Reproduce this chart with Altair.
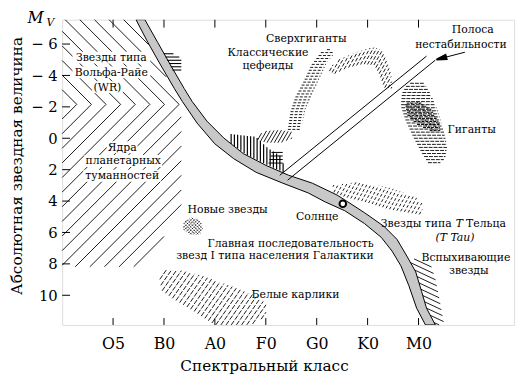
import altair as alt
import numpy as np
import pandas as pd

# ---------------- axes ----------------
spectral_labels = ["O5", "B0", "A0", "F0", "G0", "K0", "M0"]
spectral_pos = [1, 2, 3, 4, 5, 6, 7]
mag_ticks = [-6, -4, -2, 0, 2, 4, 6, 8, 10]
X_DOMAIN = [0.0, 8.878]
Y_DOMAIN = [-7.55, 11.89]
W, H = 459, 310
SX = W / (X_DOMAIN[1] - X_DOMAIN[0])
SY = H / (Y_DOMAIN[1] - Y_DOMAIN[0])

# ---------------- main sequence band (edges) ----------------
ms_upper_x = [1.625, 1.876, 2.128, 2.398, 2.553, 2.843, 3.172, 3.559, 4.004, 4.449, 4.913,
              5.397, 5.551, 5.938, 6.325, 6.576, 6.770, 6.944, 7.060, 7.157, 7.331]
ms_upper_y = [-7.55, -6.107, -4.665, -3.160, -2.345, -1.091, -0.025, 0.978, 1.730, 2.357, 2.859,
              3.611, 3.925, 4.740, 5.618, 6.433, 7.498, 8.502, 9.755, 10.821, 11.89]
ms_lower_x = [1.451, 1.683, 1.934, 2.205, 2.360, 2.650, 2.998, 3.366, 3.810, 4.333, 4.836,
              5.164, 5.551, 5.938, 6.267, 6.480, 6.654, 6.809, 6.963, 7.137]
ms_lower_y = [-7.55, -6.107, -4.665, -3.160, -2.345, -0.966, 0.351, 1.292, 2.169, 2.859, 3.486,
              4.050, 4.614, 5.430, 6.307, 7.185, 8.125, 9.379, 10.821, 11.89]

sun_x = [5.513]
sun_y = [4.176]

# instability strip
strip_x = [4.275, 4.429]
strip_y = [2.357, 2.671]
strip_x2 = [7.157, 7.331]
strip_y2 = [-5.229, -4.978]
arrow_x, arrow_y, arrow_x2, arrow_y2 = [7.911], [-5.480], [7.447], [-5.091]

# ---------------- regions ----------------
wr_upper_x = [0.0, 1.431, 2.340, 0.0]
wr_upper_y = [-7.55, -7.55, -2.157, -2.157]
wr_lower_x = [0.0, 2.340, 2.340, 1.586, 0.0]
wr_lower_y = [-2.157, -2.157, 4.677, 8.188, 8.188]
hpatch_x = [1.992, 2.166, 2.340, 2.340, 2.186]
hpatch_y = [-5.417, -5.417, -5.103, -4.226, -4.226]
vpatch_x = [3.288, 3.810, 4.004, 4.333, 4.352, 4.004, 3.617, 3.288]
vpatch_y = [-0.276, -0.088, 0.539, 1.229, 2.169, 1.668, 1.041, 0.288]
spatch_x = [4.120, 4.333, 4.333, 4.043]
spatch_y = [0.790, 0.790, 1.730, 1.730]
opatch_x = [3.849, 4.004, 4.294, 4.526, 4.507, 4.294, 4.004, 3.830]
opatch_y = [-0.213, -0.464, -0.527, -0.401, 0.038, 0.288, 0.288, 0.100]
cepheid_x = [4.429, 4.487, 4.584, 4.739, 4.894, 5.087, 5.261, 5.338, 5.203, 5.068, 4.913, 4.778, 4.681]
cepheid_y = [-0.464, -1.718, -2.658, -3.599, -4.665, -5.480, -5.730, -5.354, -4.853, -3.912, -2.846, -1.843, -0.464]
superg_x = [5.203, 5.455, 5.783, 6.093, 6.267, 6.364, 6.460, 6.480, 6.325, 6.228, 6.132, 5.899, 5.590, 5.358]
superg_y = [-4.351, -5.041, -5.480, -5.793, -5.668, -4.978, -4.100, -3.160, -3.223, -4.100, -4.665, -4.727, -4.476, -4.100]
giant_x = [6.905, 7.099, 7.234, 7.369, 7.485, 7.563, 7.524, 7.389, 7.195, 7.060, 6.905, 6.750, 6.654, 6.673, 6.770]
giant_y = [-3.599, -3.599, -2.846, -1.843, -0.589, 0.476, 1.292, 1.668, 1.605, 0.915, -0.025, -1.091, -2.031, -2.846, -3.411]
gcore_x = [6.731, 7.002, 7.253, 7.408, 7.427, 7.234, 6.983, 6.789]
gcore_y = [-2.219, -2.345, -1.843, -0.966, -0.464, -0.464, -0.840, -1.404]
ttau_x = [5.319, 5.803, 6.460, 6.963, 7.099, 7.041, 6.460, 5.938, 5.551, 5.319]
ttau_y = [2.984, 2.796, 3.172, 3.799, 4.238, 4.865, 4.552, 4.050, 3.737, 3.423]
novae_x = [2.398, 2.553, 2.708, 2.766, 2.708, 2.515, 2.379]
novae_y = [5.304, 5.053, 5.241, 5.680, 6.119, 6.119, 5.806]
wd_x = [2.031, 2.360, 2.747, 3.288, 3.772, 4.004, 4.004, 3.849, 3.617, 2.998, 2.553, 2.166, 1.954, 1.915]
wd_y = [8.376, 8.439, 8.752, 9.379, 10.006, 10.508, 11.135, 11.762, 11.887, 11.887, 10.947, 10.194, 9.693, 8.940]
flare_x = [6.770, 7.215, 7.331, 7.408, 7.505, 7.331, 7.157, 7.060, 6.944]
flare_y = [7.624, 7.812, 8.940, 10.194, 11.887, 11.887, 10.821, 9.755, 8.502]

# ---------------- labels ----------------
boxed_text = ["Звезды типа", "Вольфа-Райе", "(WR)", "Ядра", "планетарных", "туманностей"]
boxed_x = [0.967, 0.967, 0.890, 1.180, 1.199, 1.180]
boxed_y = [-5.10, -4.163, -3.223, 0.602, 1.480, 2.420]
center_text = ["Сверхгиганты", "Классические", "цефеиды", "Полоса", "нестабильности", "Гиганты",
               "Новые звезды", "Солнце", "Вспыхивающие", "звезды", "Белые карлики"]
center_x = [4.797, 4.043, 4.043, 8.066, 7.834, 8.046, 3.250, 5.010, 7.930, 7.988, 4.584]
center_y = [-6.295, -5.42, -4.60, -6.92, -5.92, -0.527, 4.552, 4.991, 7.62, 8.44, 10.006]
right_text = ["Главная последовательность", "звезд I типа населения  Галактики", "Звезды типа"]
right_x = [6.120, 6.120, 7.650]
right_y = [6.72, 7.52, 5.47]
left_text = ["Тельца"]
left_x = [7.935]
left_y = [5.47]
italic_text = ["Т", "(T Tau)"]
italic_x = [7.800, 7.718]
italic_y = [5.47, 6.36]
mv_text = ["M", "V"]
mv_x = [-0.522, -0.232]
mv_y = [-7.66, -7.33]

FONT = "DejaVu Serif"
FS = 11

xscale = alt.Scale(domain=X_DOMAIN, nice=False, zero=False)
yscale = alt.Scale(domain=Y_DOMAIN, reverse=True, nice=False, zero=False)
label_expr_x = "[" + ",".join("'%s'" % s for s in spectral_labels) + "][datum.value - 1]"
xaxis = alt.Axis(values=spectral_pos, labelExpr=label_expr_x, ticks=False, tickSize=0, domain=False,
                 grid=False, labelFont=FONT, labelFontSize=16, labelPadding=11, labelFlush=False,
                 labelColor="black", title="Спектральный класс", titleFont=FONT, titleFontSize=15.5,
                 titleFontWeight="normal", titleColor="black", titleX=205, titleY=41,
                 titleBaseline="middle")
yaxis = alt.Axis(values=mag_ticks, labelExpr="datum.value < 0 ? '− ' + abs(datum.value) : '' + datum.value",
                 ticks=False, tickSize=0, domain=False, grid=False, labelFont=FONT, labelFontSize=15,
                 labelPadding=5, labelFlush=False, labelColor="black",
                 title="Абсолютная звездная величина", titleFont=FONT, titleFontSize=15.5,
                 titleFontWeight="normal", titleColor="black", titleX=-46, titleY=148,
                 titleBaseline="middle", titleAngle=-90)


def X(f):
    return alt.X(f, type="quantitative", scale=xscale, axis=xaxis)


def Y(f):
    return alt.Y(f, type="quantitative", scale=yscale, axis=yaxis)


def hatch(xs, ys, angle, spacing, anchor=(0.0, 0.0), offset=0.0):
    P = np.column_stack([np.asarray(xs) * SX, np.asarray(ys) * SY])
    a = np.radians(angle)
    d = np.array([np.cos(a), np.sin(a)])
    n = np.array([-np.sin(a), np.cos(a)])
    A = np.array([anchor[0] * SX, anchor[1] * SY])
    proj = P @ n
    c0 = A @ n + offset
    kmin = int(np.ceil((proj.min() - c0) / spacing))
    kmax = int(np.floor((proj.max() - c0) / spacing))
    m = len(P)
    segs = []
    for k in range(kmin, kmax + 1):
        c = c0 + k * spacing
        ss = []
        for i in range(m):
            c1, c2 = proj[i], proj[(i + 1) % m]
            if (c1 <= c < c2) or (c2 <= c < c1):
                t = (c - c1) / (c2 - c1)
                q = P[i] + t * (P[(i + 1) % m] - P[i])
                ss.append(q @ d)
        ss.sort()
        for j in range(0, len(ss) - 1, 2):
            q1 = c * n + ss[j] * d
            q2 = c * n + ss[j + 1] * d
            segs.append((q1[0] / SX, q1[1] / SY, q2[0] / SX, q2[1] / SY))
    return pd.DataFrame(segs, columns=["x", "y", "x2", "y2"])


def rules(df, width=0.9, dash=None, color="black"):
    kw = dict(stroke=color, strokeWidth=width)
    if dash is not None:
        kw["strokeDash"] = dash
    return alt.Chart(df).mark_rule(**kw).encode(x=X("x"), y=Y("y"), x2="x2", y2="y2")


layers = []
anchor = (0.0, -2.157)
layers.append(rules(hatch(wr_upper_x, wr_upper_y, 45, 10.5, anchor), 0.9))
layers.append(rules(hatch(wr_lower_x, wr_lower_y, -45, 10.5, anchor), 0.9))
layers.append(rules(hatch(wd_x, wd_y, -55, 4.3), 0.9, [5, 1.5]))
layers.append(rules(hatch(ttau_x, ttau_y, -60, 3.6), 0.9, [3, 2]))
layers.append(rules(hatch(flare_x, flare_y, 25, 5.0), 0.9))
layers.append(rules(hatch(giant_x, giant_y, 0, 3.1), 0.9, [4, 1]))
layers.append(rules(hatch(gcore_x, gcore_y, 0, 3.1, offset=1.55), 1.0, [3, 1]))
layers.append(rules(hatch(gcore_x, gcore_y, 30, 4.0), 0.8, [2, 1]))
layers.append(rules(hatch(superg_x, superg_y, -60, 3.0), 0.9, [4, 2]))
layers.append(rules(hatch(cepheid_x, cepheid_y, 0, 3.0), 0.9, [3, 1.5]))
layers.append(rules(hatch(novae_x, novae_y, 45, 2.4), 0.8, [1.5, 1]))
layers.append(rules(hatch(novae_x, novae_y, -45, 2.4), 0.8, [1.5, 1]))
layers.append(rules(hatch(opatch_x, opatch_y, -60, 3.2), 0.9))
layers.append(rules(hatch(vpatch_x, vpatch_y, 90, 3.3), 1.2))
layers.append(rules(hatch(spatch_x, spatch_y, 0, 3.6), 1.0))

band = pd.DataFrame({
    "x": ms_upper_x + ms_lower_x[::-1] + [ms_upper_x[0]],
    "y": ms_upper_y + ms_lower_y[::-1] + [ms_upper_y[0]],
})
band["i"] = range(len(band))
layers.append(alt.Chart(band).mark_line(fill="#c8c8c8", stroke="black", strokeWidth=1, clip=True)
              .encode(x=X("x"), y=Y("y"), order="i:Q"))

layers.append(rules(hatch(hpatch_x, hpatch_y, 0, 3.3), 1.1))

strip = pd.DataFrame({"x": strip_x, "y": strip_y, "x2": strip_x2, "y2": strip_y2})
layers.append(rules(strip, 1.0))
arrow = pd.DataFrame({"x": arrow_x, "y": arrow_y, "x2": arrow_x2, "y2": arrow_y2})
layers.append(rules(arrow, 1.0))
head = pd.DataFrame({"x": [arrow_x2[0]], "y": [arrow_y2[0]]})
layers.append(alt.Chart(head).mark_point(shape="M -1 0 L 1 -0.45 L 1 0.45 Z", size=100, angle=345,
                                          filled=True, fill="black", stroke="black", opacity=1)
              .encode(x=X("x"), y=Y("y")))

sun = pd.DataFrame({"x": sun_x, "y": sun_y})
layers.append(alt.Chart(sun).mark_point(shape="circle", size=45, fill="white", stroke="black",
                                         strokeWidth=2, opacity=1, filled=False)
              .encode(x=X("x"), y=Y("y")))

# inward ticks
bt = pd.DataFrame({"x": spectral_pos, "y": Y_DOMAIN[1], "y2": Y_DOMAIN[1] - 7 / SY})
tt = pd.DataFrame({"x": spectral_pos, "y": Y_DOMAIN[0], "y2": Y_DOMAIN[0] + 8 / SY})
lt = pd.DataFrame({"x": X_DOMAIN[0], "x2": X_DOMAIN[0] + 8 / SX, "y": mag_ticks})
for df in (bt, tt):
    layers.append(alt.Chart(df).mark_rule(stroke="black", strokeWidth=1)
                  .encode(x=X("x"), y=Y("y"), y2="y2"))
layers.append(alt.Chart(lt).mark_rule(stroke="black", strokeWidth=1)
              .encode(x=X("x"), x2="x2", y=Y("y")))

# white knock-out boxes behind the labels that sit on hatching
bx = pd.DataFrame({"x": boxed_x, "y": boxed_y, "t": boxed_text})
half_w = bx["t"].str.len() * FS * 0.31 + 2
bx["x1"] = bx["x"] - half_w / SX
bx["x2"] = bx["x"] + half_w / SX
bx["y1"] = bx["y"] - 6.5 / SY
bx["y2"] = bx["y"] + 5.5 / SY
layers.append(alt.Chart(bx).mark_rect(fill="white", stroke=None)
              .encode(x=X("x1"), x2="x2", y=Y("y1"), y2="y2"))


def texts(txt, xs, ys, align, size=FS, style="normal"):
    df = pd.DataFrame({"x": xs, "y": ys, "t": txt})
    return alt.Chart(df).mark_text(align=align, baseline="middle", font=FONT, fontSize=size,
                                   fontStyle=style, fill="black").encode(x=X("x"), y=Y("y"), text="t:N")


layers.append(texts(boxed_text, boxed_x, boxed_y, "center"))
layers.append(texts(center_text, center_x, center_y, "center"))
layers.append(texts(right_text, right_x, right_y, "right"))
layers.append(texts(left_text, left_x, left_y, "left"))
layers.append(texts(italic_text, italic_x, italic_y, "center", style="italic"))

mv = pd.DataFrame({"x": mv_x, "y": mv_y, "t": mv_text, "s": [16, 11]})
layers.append(alt.Chart(mv).mark_text(font=FONT, fontStyle="italic", baseline="middle",
                                       align="center", fill="black")
              .encode(x=X("x"), y=Y("y"), text="t:N",
                      size=alt.Size("s:Q", scale=None, legend=None)))

chart = alt.layer(*layers).properties(
    width=W, height=H,
    padding={"left": 55, "top": 9, "right": 8, "bottom": 52},
    autosize=alt.AutoSizeParams(type="none"),
).configure_view(stroke="black", strokeWidth=1).configure(background="white")

chart.save("out.html", embed_options={"renderer": "svg", "actions": False})
